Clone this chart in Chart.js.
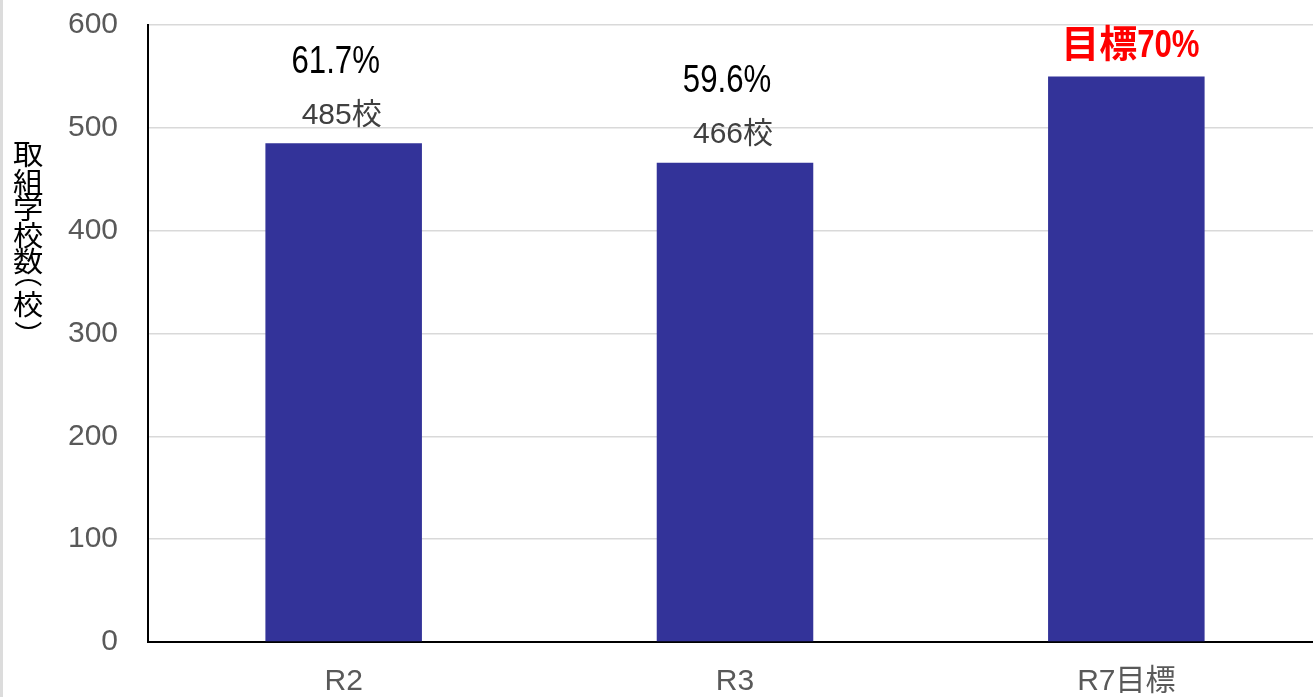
<!DOCTYPE html>
<html lang="ja">
<head>
    <meta charset="UTF-8">
    <title>取組学校数</title>
    <script src="https://cdn.jsdelivr.net/npm/chart.js"></script>
    <style>
        html, body { margin: 0; padding: 0; background: #fff; overflow: hidden; }
        /* il grafico originale è tagliato a destra */
        #wrap { width: 1313px; height: 697px; position: relative; overflow: hidden; }
    </style>
</head>
<body>
<div id="wrap"><canvas id="myChart" width="1322" height="697"></canvas></div>
<script>
    // dati
    const categories = ['R2', 'R3', 'R7目標'];
    const schoolCounts = [485, 466, 550];
    const rateLabels = ['61.7%', '59.6%', '目標70%'];
    const countLabels = ['485校', '466校', ''];
    const yAxisTitle = '取組学校数（校）';
    const yMin = 0, yMax = 600, yStep = 100;

    const rateColors = ['#000000', '#000000', '#ff0000'];
    const rateWeights = ['normal', 'normal', 'bold'];

    const cjk = /[\u3000-\u9fff\uff00-\uffef]/;

    // testo misto: le parti latine vengono strette (effetto "narrow")
    function drawMixed(ctx, text, cx, cy, size, weight, color) {
        const runs = [];
        for (const ch of text) {
            const isCjk = cjk.test(ch);
            if (runs.length && runs[runs.length - 1].cjk === isCjk) runs[runs.length - 1].t += ch;
            else runs.push({ t: ch, cjk: isCjk });
        }
        const squeeze = 0.82;
        ctx.save();
        ctx.font = weight + ' ' + size + 'px "Liberation Sans", "Noto Sans CJK JP"';
        ctx.fillStyle = color;
        ctx.textBaseline = 'middle';
        ctx.textAlign = 'left';
        let total = 0;
        runs.forEach(r => { r.w = ctx.measureText(r.t).width * (r.cjk ? 1 : squeeze); total += r.w; });
        let x = cx - total / 2;
        runs.forEach(r => {
            ctx.save();
            ctx.translate(x, cy);
            if (!r.cjk) ctx.scale(squeeze, 1);
            ctx.fillText(r.t, 0, 0);
            ctx.restore();
            x += r.w;
        });
        ctx.restore();
    }

    // titolo verticale: un carattere sotto l'altro, parentesi ruotate
    function drawVerticalTitle(ctx, text, cx, startY) {
        ctx.save();
        ctx.font = '28px "Noto Sans CJK JP"';
        ctx.fillStyle = '#000';
        ctx.textAlign = 'left';
        ctx.textBaseline = 'alphabetic';
        let y = startY;
        let prevH = 0;
        for (const ch of text) {
            const paren = (ch === '（' || ch === '）');
            const h = paren ? 16.5 : 26.5;
            const cy = prevH ? y + (prevH + h) / 2 : y;
            const m = ctx.measureText(ch);
            const gx = (m.actualBoundingBoxRight - m.actualBoundingBoxLeft) / 2;
            const gy = (m.actualBoundingBoxDescent - m.actualBoundingBoxAscent) / 2;
            ctx.save();
            ctx.translate(cx, cy);
            if (paren) ctx.rotate(Math.PI / 2);
            else ctx.scale(1.08, 1);
            ctx.fillText(ch, -gx, -gy);
            ctx.restore();
            y = cy;
            prevH = h;
        }
        ctx.restore();
    }

    const labelPlugin = {
        id: 'labelPlugin',
        beforeDraw(chart) {
            const ctx = chart.ctx;
            ctx.save();
            ctx.fillStyle = '#fff';
            ctx.fillRect(0, 0, chart.width, chart.height);
            ctx.restore();
        },
        afterDatasetsDraw(chart) {
            const ctx = chart.ctx;
            const meta = chart.getDatasetMeta(0);
            meta.data.forEach((bar, i) => {
                if (countLabels[i]) {
                    ctx.save();
                    ctx.font = '30px "Liberation Sans", "Noto Sans CJK JP"';
                    ctx.fillStyle = '#404040';
                    ctx.textAlign = 'center';
                    ctx.textBaseline = 'middle';
                    ctx.fillText(countLabels[i], bar.x - 2, bar.y - 28);
                    ctx.restore();
                    drawMixed(ctx, rateLabels[i], bar.x - 8, bar.y - 81, 38, rateWeights[i], rateColors[i]);
                } else {
                    drawMixed(ctx, rateLabels[i], bar.x + 4, bar.y - 30, 38, rateWeights[i], rateColors[i]);
                }
            });
            drawVerticalTitle(ctx, yAxisTitle, 28, 155);
        },
        afterDraw(chart) {
            const ctx = chart.ctx;
            ctx.save();
            ctx.fillStyle = '#dcdcdc';
            ctx.fillRect(0, 0, 3, chart.height);
            ctx.restore();
        }
    };

    const ctx = document.getElementById('myChart').getContext('2d');
    const myChart = new Chart(ctx, {
        type: 'bar',
        data: {
            labels: categories,
            datasets: [{
                data: schoolCounts,
                backgroundColor: '#333399',
                borderWidth: 0,
                categoryPercentage: 0.8,
                barPercentage: 0.5
            }]
        },
        options: {
            responsive: false,
            animation: false,
            devicePixelRatio: 1,
            layout: { padding: { top: 25, right: 0, bottom: 0, left: 0 } },
            plugins: {
                legend: { display: false },
                tooltip: { enabled: false }
            },
            scales: {
                x: {
                    grid: { display: false, drawTicks: false },
                    border: { display: true, color: '#000', width: 2 },
                    ticks: {
                        color: '#595959',
                        font: { family: '"Liberation Sans", "Noto Sans CJK JP"', size: 30 },
                        padding: 22,
                        maxRotation: 0
                    },
                    afterFit(scale) {
                        scale.height = 55;
                        scale.paddingLeft = 0;
                        scale.paddingRight = 0;
                    }
                },
                y: {
                    min: yMin,
                    max: yMax,
                    grid: { color: '#d9d9d9', lineWidth: 1.5, drawTicks: false },
                    border: { display: true, color: '#000', width: 2 },
                    ticks: {
                        stepSize: yStep,
                        color: '#595959',
                        font: { family: '"Liberation Sans"', size: 30 },
                        padding: 30
                    },
                    afterFit(scale) {
                        scale.width = 148;
                        scale.paddingTop = 0;
                        scale.paddingBottom = 0;
                    }
                }
            }
        },
        plugins: [labelPlugin]
    });
</script>
</body>
</html>
